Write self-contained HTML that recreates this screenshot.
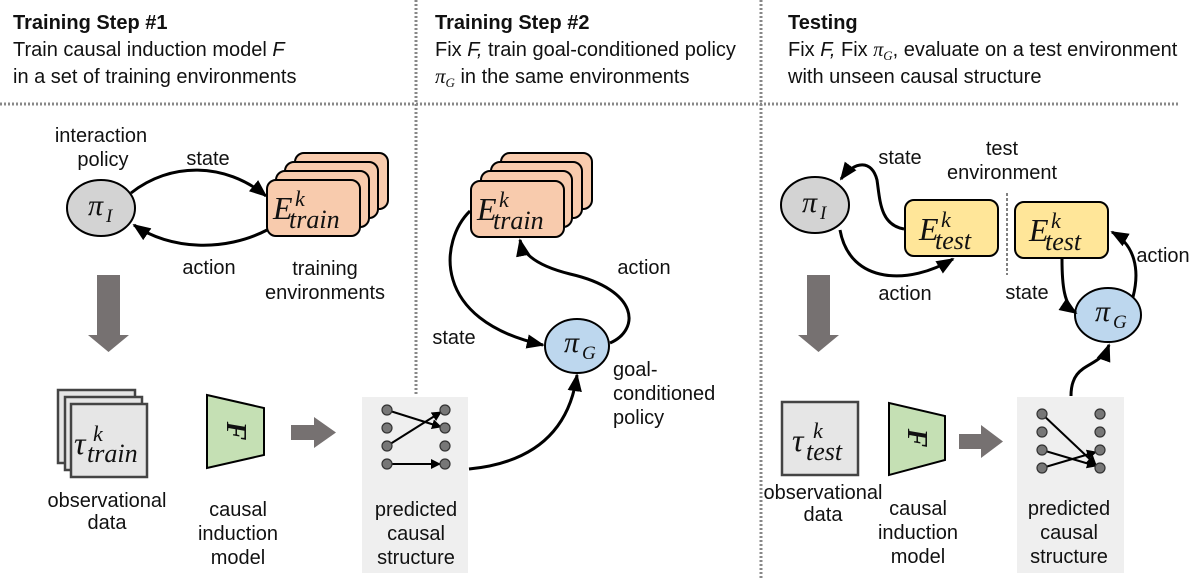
<!DOCTYPE html>
<html><head><meta charset="utf-8"><style>
html,body{margin:0;padding:0;background:#fff;}
svg{display:block;}
.t{font-family:"Liberation Sans",sans-serif;font-size:20px;fill:#111;}
.h{font-family:"Liberation Sans",sans-serif;font-size:20px;fill:#111;}
.m{font-family:"Liberation Serif",serif;font-style:italic;fill:#111;}
</style></head><body>
<svg width="1200" height="579" viewBox="0 0 1200 579" xmlns="http://www.w3.org/2000/svg">
<defs>
<marker id="a" viewBox="0 0 10 10" refX="9" refY="5" markerWidth="5" markerHeight="5" orient="auto-start-reverse"><path d="M0,0 L10,5 L0,10 z" fill="#000"/></marker>
<marker id="s" viewBox="0 0 10 10" refX="9" refY="5" markerWidth="6" markerHeight="6" orient="auto"><path d="M0,1 L10,5 L0,9 z" fill="#000"/></marker>
</defs>
<line x1="0" y1="104" x2="1180" y2="104" stroke="#888" stroke-width="3" stroke-dasharray="2,2"/>
<line x1="416" y1="0" x2="416" y2="395" stroke="#888" stroke-width="3" stroke-dasharray="2,2"/>
<line x1="761" y1="0" x2="761" y2="579" stroke="#888" stroke-width="3" stroke-dasharray="2,2"/>

<text class="h" x="13" y="29" font-weight="bold">Training Step #1</text>
<text class="h" x="13" y="56">Train causal induction model <tspan font-style="italic">F</tspan></text>
<text class="h" x="13" y="83">in a set of training environments</text>
<text class="h" x="435" y="29" font-weight="bold">Training Step #2</text>
<text class="h" x="435" y="56">Fix <tspan font-style="italic">F,</tspan> train goal-conditioned policy</text>
<text class="h" x="435" y="83"><tspan class="m" font-size="21">π</tspan><tspan class="m" font-size="13" dy="4">G</tspan><tspan dy="-4"> in the same environments</tspan></text>
<text class="h" x="788" y="29" font-weight="bold">Testing</text>
<text class="h" x="788" y="56">Fix <tspan font-style="italic">F,</tspan> Fix <tspan class="m">π</tspan><tspan class="m" font-size="13" dy="4">G</tspan><tspan dy="-4">, evaluate on a test environment</tspan></text>
<text class="h" x="788" y="83">with unseen causal structure</text>

<!-- Panel 1 -->
<text class="t" x="101" y="142" text-anchor="middle">interaction</text>
<text class="t" x="103" y="166" text-anchor="middle">policy</text>
<ellipse cx="101" cy="208" rx="34" ry="28" fill="#d3d3d3" stroke="#000" stroke-width="2"/>
<text class="m" x="88" y="215" font-size="30">π</text><text class="m" x="106" y="222" font-size="19">I</text>
<text class="t" x="208" y="165" text-anchor="middle">state</text>
<text class="t" x="209" y="274" text-anchor="middle">action</text>
<path d="M131,193 C170,162 225,162 266,196" fill="none" stroke="#000" stroke-width="3" marker-end="url(#s)"/>
<path d="M267,230 C225,252 170,250 134,225" fill="none" stroke="#000" stroke-width="3" marker-end="url(#s)"/>
<g stroke="#000" stroke-width="2" fill="#f8cbad">
<rect x="295" y="153" width="93" height="56" rx="9"/>
<rect x="285" y="162" width="93" height="56" rx="9"/>
<rect x="276" y="171" width="93" height="56" rx="9"/>
<rect x="267" y="180" width="93" height="56" rx="9"/>
</g>
<text class="m" x="273" y="219" font-size="32">E</text>
<text class="m" x="295" y="206" font-size="22">k</text>
<text class="m" x="289" y="228" font-size="26">train</text>
<text class="t" x="325" y="275" text-anchor="middle">training</text>
<text class="t" x="325" y="299" text-anchor="middle">environments</text>
<path d="M97,275 H120 V335 H129 L108.5,352 L88,335 H97 Z" fill="#767171"/>
<g stroke="#444" stroke-width="2.5" fill="#e6e6e6">
<rect x="58" y="390" width="77" height="73"/>
<rect x="65" y="397" width="77" height="73"/>
<rect x="71" y="404" width="76" height="73"/>
</g>
<text class="m" x="74" y="454" font-size="32">τ</text>
<text class="m" x="93" y="441" font-size="22">k</text>
<text class="m" x="87" y="462" font-size="26">train</text>
<text class="t" x="107" y="507" text-anchor="middle" font-size="18">observational</text>
<text class="t" x="107" y="529" text-anchor="middle" font-size="18">data</text>
<polygon points="207,395 264,408 264,455 207,468" fill="#c5e0b4" stroke="#000" stroke-width="2"/>
<text class="m" x="236" y="431" font-size="28" font-weight="bold" text-anchor="middle" transform="rotate(90 236 431)" dy="9">F</text>
<text class="t" x="238" y="516" text-anchor="middle">causal</text>
<text class="t" x="238" y="540" text-anchor="middle">induction</text>
<text class="t" x="238" y="564" text-anchor="middle">model</text>
<path d="M291,425 H314 V417 L336,432.5 L314,448 V440 H291 Z" fill="#767171"/>

<rect x="362" y="397" width="106" height="176" fill="#efefef"/>
<g stroke="#000" stroke-width="2" marker-end="url(#a)">
<line x1="387" y1="410" x2="441" y2="427"/>
<line x1="387" y1="446" x2="441" y2="412"/>
<line x1="387" y1="464" x2="440" y2="464"/>
</g>
<g fill="#777" stroke="#333" stroke-width="1.2">
<circle cx="387" cy="410" r="5"/><circle cx="387" cy="428" r="5"/><circle cx="387" cy="446" r="5"/><circle cx="387" cy="464" r="5"/>
<circle cx="445" cy="410" r="5"/><circle cx="445" cy="428" r="5"/><circle cx="445" cy="446" r="5"/><circle cx="445" cy="464" r="5"/>
</g>
<text class="t" x="416" y="516" text-anchor="middle">predicted</text>
<text class="t" x="416" y="540" text-anchor="middle">causal</text>
<text class="t" x="416" y="564" text-anchor="middle">structure</text>

<!-- Panel 2 -->
<g stroke="#000" stroke-width="2" fill="#f8cbad">
<rect x="501" y="153" width="91" height="56" rx="9"/>
<rect x="491" y="162" width="91" height="56" rx="9"/>
<rect x="481" y="171" width="91" height="56" rx="9"/>
<rect x="471" y="181" width="93" height="56" rx="9"/>
</g>
<text class="m" x="477" y="220" font-size="32">E</text>
<text class="m" x="499" y="207" font-size="22">k</text>
<text class="m" x="493" y="229" font-size="26">train</text>
<ellipse cx="577" cy="346" rx="32" ry="27" fill="#bdd7ee" stroke="#000" stroke-width="2"/>
<text class="m" x="564" y="352" font-size="30">π</text><text class="m" x="582" y="359" font-size="19">G</text>
<path d="M470,211 C440,240 430,320 543,345" fill="none" stroke="#000" stroke-width="3" marker-end="url(#s)"/>
<path d="M610,343 C640,330 640,290 570,274 C530,264 522,250 520,240" fill="none" stroke="#000" stroke-width="3" marker-end="url(#s)"/>
<path d="M469,469 C540,462 570,425 577,375" fill="none" stroke="#000" stroke-width="3" marker-end="url(#s)"/>
<text class="t" x="454" y="344" text-anchor="middle">state</text>
<text class="t" x="644" y="274" text-anchor="middle">action</text>
<text class="t" x="613" y="376">goal-</text>
<text class="t" x="613" y="400">conditioned</text>
<text class="t" x="613" y="424">policy</text>

<!-- Panel 3 -->
<ellipse cx="815" cy="205" rx="34" ry="28" fill="#d3d3d3" stroke="#000" stroke-width="2"/>
<text class="m" x="802" y="212" font-size="30">π</text><text class="m" x="820" y="219" font-size="19">I</text>
<rect x="905" y="200" width="93" height="56" rx="9" fill="#ffe699" stroke="#000" stroke-width="2"/>
<rect x="1015" y="202" width="93" height="56" rx="9" fill="#ffe699" stroke="#000" stroke-width="2"/>
<text class="m" x="919" y="240" font-size="32">E</text><text class="m" x="941" y="227" font-size="22">k</text><text class="m" x="935" y="249" font-size="26">test</text>
<text class="m" x="1029" y="241" font-size="32">E</text><text class="m" x="1051" y="228" font-size="22">k</text><text class="m" x="1045" y="250" font-size="26">test</text>
<line x1="1007" y1="193" x2="1007" y2="275" stroke="#000" stroke-width="1" stroke-dasharray="3,2"/>
<text class="t" x="1002" y="155" text-anchor="middle">test</text>
<text class="t" x="1002" y="179" text-anchor="middle">environment</text>
<text class="t" x="900" y="164" text-anchor="middle">state</text>
<text class="t" x="905" y="300" text-anchor="middle">action</text>
<text class="t" x="1027" y="299" text-anchor="middle">state</text>
<text class="t" x="1163" y="262" text-anchor="middle">action</text>
<path d="M904,229 C880,225 880,200 877,180 C872,160 855,160 841,179" fill="none" stroke="#000" stroke-width="3" marker-end="url(#s)"/>
<path d="M840,230 C850,285 910,285 953,259" fill="none" stroke="#000" stroke-width="3" marker-end="url(#s)"/>
<ellipse cx="1108" cy="315" rx="33" ry="27" fill="#bdd7ee" stroke="#000" stroke-width="2"/>
<text class="m" x="1095" y="321" font-size="30">π</text><text class="m" x="1113" y="328" font-size="19">G</text>
<path d="M1062,259 C1062,285 1064,305 1076,313" fill="none" stroke="#000" stroke-width="3" marker-end="url(#s)"/>
<path d="M1133,297 C1140,270 1135,245 1112,232" fill="none" stroke="#000" stroke-width="3" marker-end="url(#s)"/>
<path d="M1071,396 C1071,360 1100,370 1109,345" fill="none" stroke="#000" stroke-width="3" marker-end="url(#s)"/>
<path d="M807,275 H830 V335 H839 L818.5,352 L798,335 H807 Z" fill="#767171"/>
<rect x="782" y="402" width="76" height="73" fill="#e6e6e6" stroke="#444" stroke-width="2.5"/>
<text class="m" x="792" y="451" font-size="32">τ</text><text class="m" x="813" y="438" font-size="22">k</text><text class="m" x="806" y="460" font-size="26">test</text>
<text class="t" x="823" y="499" text-anchor="middle" font-size="18">observational</text>
<text class="t" x="823" y="521" text-anchor="middle" font-size="18">data</text>
<polygon points="889,403 945,416 945,460 889,475" fill="#c5e0b4" stroke="#000" stroke-width="2"/>
<text class="m" x="917" y="438" font-size="28" font-weight="bold" text-anchor="middle" transform="rotate(90 917 438)" dy="9">F</text>
<text class="t" x="918" y="515" text-anchor="middle">causal</text>
<text class="t" x="918" y="539" text-anchor="middle">induction</text>
<text class="t" x="918" y="563" text-anchor="middle">model</text>
<path d="M959,434 H981 V425 L1003,441.5 L981,458 V449 H959 Z" fill="#767171"/>
<rect x="1017" y="397" width="107" height="176" fill="#efefef"/>
<g stroke="#000" stroke-width="2" marker-end="url(#a)">
<line x1="1042" y1="414" x2="1096" y2="465"/>
<line x1="1042" y1="450" x2="1096" y2="466"/>
<line x1="1042" y1="468" x2="1096" y2="452"/>
</g>
<g fill="#777" stroke="#333" stroke-width="1.2">
<circle cx="1042" cy="414" r="5"/><circle cx="1042" cy="432" r="5"/><circle cx="1042" cy="450" r="5"/><circle cx="1042" cy="468" r="5"/>
<circle cx="1100" cy="414" r="5"/><circle cx="1100" cy="432" r="5"/><circle cx="1100" cy="450" r="5"/><circle cx="1100" cy="468" r="5"/>
</g>
<text class="t" x="1069" y="515" text-anchor="middle">predicted</text>
<text class="t" x="1069" y="539" text-anchor="middle">causal</text>
<text class="t" x="1069" y="563" text-anchor="middle">structure</text>
</svg>
</body></html>
